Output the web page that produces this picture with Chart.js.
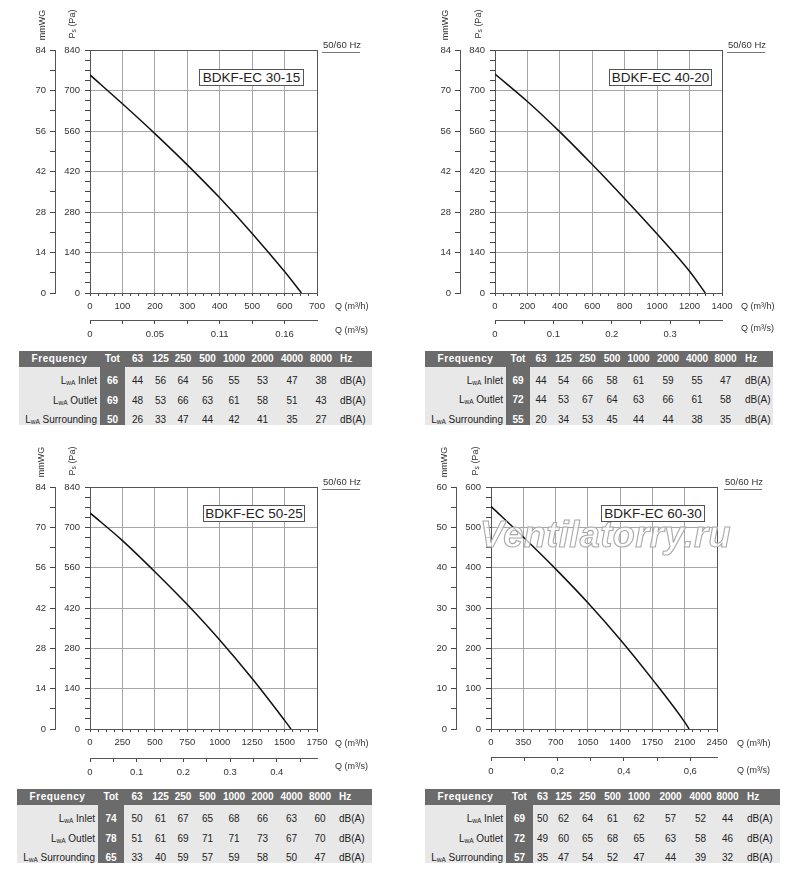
<!DOCTYPE html>
<html><head><meta charset="utf-8">
<script src="https://cdn.jsdelivr.net/npm/chart.js@4.4.0/dist/chart.umd.min.js"></script>
<style>
body{margin:0;background:#fff;width:800px;height:879px;position:relative;overflow:hidden;font-family:"Liberation Sans",Arial,sans-serif;color:#333}
canvas{position:absolute}
.t{position:absolute;white-space:nowrap;font-size:9px;line-height:10px;color:#333}
.rot{transform:translate(-50%,-50%) rotate(-90deg)}
.t sub{font-size:6.5px;vertical-align:-1px;line-height:0}
.hzl{position:absolute;height:0;border-top:1.5px solid #777}
.box{position:absolute;border:1px solid #555;background:#fff;font-size:13.5px;text-align:center;color:#222;box-sizing:border-box;white-space:nowrap}
.wm{position:absolute;font-size:36px;line-height:36px;font-weight:bold;font-style:italic;color:rgba(255,255,255,0.72);-webkit-text-stroke:1.1px #aaaaaa;white-space:nowrap;letter-spacing:0.5px}
table.snd{position:absolute;border-collapse:collapse;table-layout:fixed;font-size:10px;font-family:"Liberation Sans",Arial,sans-serif}
table.snd th,table.snd td{padding:0;text-align:center;white-space:nowrap;overflow:visible}
table.snd th{background:#6b6b6b;color:#fff;font-weight:bold;height:16px;line-height:16px}
table.snd th.fq{letter-spacing:0.6px}
table.snd td{background:#e8e8e8;height:19.4px;vertical-align:bottom;line-height:10px;color:#222}
table.snd td.tot{background:#6b6b6b;color:#fff;font-weight:bold}
table.snd td.lbl{text-align:right}
table.snd .unit{text-align:left}
table.snd sub{font-size:6.5px;vertical-align:-1px;line-height:0}
</style></head><body>
<script>
// ---------- DATA ----------
// Panel 1: BDKF-EC 30-15
const p1_q  = [0, 100, 200, 300, 400, 500, 600, 652];
const p1_pa = [754, 654, 551, 443, 329, 206, 74, 0];
const p1_qTicks  = [0, 100, 200, 300, 400, 500, 600, 700];
const p1_paTicks = [0, 140, 280, 420, 560, 700, 840];
const p1_mmTicks = [0, 14, 28, 42, 56, 70, 84];
const p1_qsTicks  = [0, 0.0278, 0.0556, 0.0833, 0.1111, 0.1389, 0.1667];
const p1_qsLabels = ['0', '', '0.05', '', '0.11', '', '0.16'];
const p1_qsMax = 0.19444;

// Panel 2: BDKF-EC 40-20
const p2_q  = [0, 200, 400, 600, 800, 1000, 1200, 1297];
const p2_pa = [757, 662, 557, 444, 326, 204, 75, 0];
const p2_qTicks  = [0, 200, 400, 600, 800, 1000, 1200, 1400];
const p2_paTicks = [0, 140, 280, 420, 560, 700, 840];
const p2_mmTicks = [0, 14, 28, 42, 56, 70, 84];
const p2_qsTicks  = [0, 0.05, 0.1, 0.15, 0.2, 0.25, 0.3, 0.35];
const p2_qsLabels = ['0', '', '0.1', '', '0.2', '', '0.3', ''];
const p2_qsMax = 0.38889;

// Panel 3: BDKF-EC 50-25
const p3_q  = [0, 250, 500, 750, 1000, 1250, 1500, 1550];
const p3_pa = [750, 654, 546, 432, 309, 175, 30, 0];
const p3_qTicks  = [0, 250, 500, 750, 1000, 1250, 1500, 1750];
const p3_paTicks = [0, 140, 280, 420, 560, 700, 840];
const p3_mmTicks = [0, 14, 28, 42, 56, 70, 84];
const p3_qsTicks  = [0, 0.05, 0.1, 0.15, 0.2, 0.25, 0.3, 0.35, 0.4, 0.45];
const p3_qsLabels = ['0', '', '0.1', '', '0.2', '', '0.3', '', '0.4', ''];
const p3_qsMax = 0.48611;

// Panel 4: BDKF-EC 60-30
const p4_q  = [0, 350, 700, 1050, 1400, 1750, 2100, 2147];
const p4_pa = [552, 476, 397, 313, 222, 123, 17, 0];
const p4_qTicks  = [0, 350, 700, 1050, 1400, 1750, 2100, 2450];
const p4_paTicks = [0, 100, 200, 300, 400, 500, 600];
const p4_mmTicks = [0, 10, 20, 30, 40, 50, 60];
const p4_qsTicks  = [0, 0.1, 0.2, 0.3, 0.4, 0.5, 0.6];
const p4_qsLabels = ['0', '', '0,2', '', '0,4', '', '0,6'];
const p4_qsMax = 0.68056;

const titles = ['BDKF-EC 30-15', 'BDKF-EC 40-20', 'BDKF-EC 50-25', 'BDKF-EC 60-30'];

// Sound tables (Tot first, then octave bands)
const bands = ['63', '125', '250', '500', '1000', '2000', '4000', '8000'];
const t1_inlet  = [66, 44, 56, 64, 56, 55, 53, 47, 38];
const t1_outlet = [69, 48, 53, 66, 63, 61, 58, 51, 43];
const t1_surr   = [50, 26, 33, 47, 44, 42, 41, 35, 27];
const t2_inlet  = [69, 44, 54, 66, 58, 61, 59, 55, 47];
const t2_outlet = [72, 44, 53, 67, 64, 63, 66, 61, 58];
const t2_surr   = [55, 20, 34, 53, 45, 44, 44, 38, 35];
const t3_inlet  = [74, 50, 61, 67, 65, 68, 66, 63, 60];
const t3_outlet = [78, 51, 61, 69, 71, 71, 73, 67, 70];
const t3_surr   = [65, 33, 40, 59, 57, 59, 58, 50, 47];
const t4_inlet  = [69, 50, 62, 64, 61, 62, 57, 52, 44];
const t4_outlet = [72, 49, 60, 65, 68, 65, 63, 58, 46];
const t4_surr   = [57, 35, 47, 54, 52, 47, 44, 39, 32];

// ---------- LAYOUT ----------
const layouts = [
  {left:0,   top:0,   w:400, h:345, area:{l:90, t:50, r:317, b:293}, mmX:55, xH:27,
   box:[199,69,105,17], hz:[323,45,52], mm:[42,25], ps:[72,24], qh:[335,306], qs:[335,330]},
  {left:400, top:0,   w:400, h:345, area:{l:95, t:50, r:322, b:293}, mmX:60, xH:27,
   box:[609,69,103,17], hz:[728,45,52], mm:[445,25], ps:[478,24], qh:[741,306], qs:[741,328]},
  {left:0,   top:437, w:400, h:345, area:{l:90, t:50, r:317, b:292}, mmX:55, xH:29,
   box:[203,505,102,17], hz:[323,482,489], mm:[41,462], ps:[72,461], qh:[335,743], qs:[335,766]},
  {left:400, top:437, w:400, h:345, area:{l:91, t:50, r:317, b:292}, mmX:56, xH:28,
   box:[601,505,104,17], hz:[725,482,489], mm:[444,462], ps:[475,461], qh:[737,743], qs:[737,770]}
];
const tableLayouts = [
  {top:351,   cols:[19, 100, 125, 150, 171, 195, 220, 248, 277, 307, 335, 372]},
  {top:350.5, cols:[425, 506, 530, 552, 575, 600, 624, 653, 683, 711, 740, 773]},
  {top:789,   cols:[17, 98, 124, 150, 171, 195, 220, 248, 277, 306, 334, 372]},
  {top:789,   cols:[425, 506, 533, 552, 575, 600, 625, 653, 688, 713, 742, 780]}
];

const panels = [
  {q:p1_q, pa:p1_pa, qTicks:p1_qTicks, paTicks:p1_paTicks, mmTicks:p1_mmTicks, qsTicks:p1_qsTicks, qsLabels:p1_qsLabels, qsMax:p1_qsMax},
  {q:p2_q, pa:p2_pa, qTicks:p2_qTicks, paTicks:p2_paTicks, mmTicks:p2_mmTicks, qsTicks:p2_qsTicks, qsLabels:p2_qsLabels, qsMax:p2_qsMax},
  {q:p3_q, pa:p3_pa, qTicks:p3_qTicks, paTicks:p3_paTicks, mmTicks:p3_mmTicks, qsTicks:p3_qsTicks, qsLabels:p3_qsLabels, qsMax:p3_qsMax},
  {q:p4_q, pa:p4_pa, qTicks:p4_qTicks, paTicks:p4_paTicks, mmTicks:p4_mmTicks, qsTicks:p4_qsTicks, qsLabels:p4_qsLabels, qsMax:p4_qsMax}
];
const tables = [
  [t1_inlet, t1_outlet, t1_surr],
  [t2_inlet, t2_outlet, t2_surr],
  [t3_inlet, t3_outlet, t3_surr],
  [t4_inlet, t4_outlet, t4_surr]
];

// ---------- HELPERS ----------
function withMinor(majors, div) {
  const out = [];
  for (let i = 0; i < majors.length - 1; i++) {
    const a = majors[i], b = majors[i + 1];
    for (let k = 0; k < div; k++) out.push(a + (b - a) * k / div);
  }
  out.push(majors[majors.length - 1]);
  return out;
}
const isMajor = (v, majors) => majors.some(m => Math.abs(m - v) < 1e-6);
const FONT = {family: '"Liberation Sans", Arial, sans-serif', size: 9.5};
const GRID = '#a6a6a6', EDGE = '#555', TICK = '#444';
function gridColor(majors) {
  const max = majors[majors.length - 1];
  return ctx => {
    const v = ctx.tick ? ctx.tick.value : undefined;
    if (v === undefined) return 'rgba(0,0,0,0)';
    if (Math.abs(v - max) < 1e-6) return EDGE;
    return isMajor(v, majors) ? GRID : 'rgba(0,0,0,0)';
  };
}
function addText(html, cls, x, y, extraStyle) {
  const d = document.createElement('div');
  d.className = 't ' + (cls || '');
  d.innerHTML = html;
  d.style.left = x + 'px';
  d.style.top = y + 'px';
  if (extraStyle) d.style.cssText += extraStyle;
  document.body.appendChild(d);
  return d;
}

function makeChart(L, D) {
  const cv = document.createElement('canvas');
  cv.width = L.w; cv.height = L.h;
  cv.style.left = L.left + 'px'; cv.style.top = L.top + 'px';
  cv.style.width = L.w + 'px'; cv.style.height = L.h + 'px';
  document.body.appendChild(cv);
  const yW = L.area.l - L.mmX, y2W = 25, x2H = 20;
  new Chart(cv, {
    type: 'line',
    data: {datasets: [{
      data: D.q.map((q, i) => ({x: q, y: D.pa[i]})),
      borderColor: '#111', borderWidth: 1.5, pointRadius: 0,
      cubicInterpolationMode: 'monotone', fill: false, xAxisID: 'x', yAxisID: 'y'
    }]},
    options: {
      responsive: false, animation: false, events: [],
      layout: {padding: {left: L.mmX - y2W, right: L.w - L.area.r, top: L.area.t,
                         bottom: L.h - L.area.b - L.xH - x2H}},
      plugins: {legend: {display: false}, tooltip: {enabled: false}},
      scales: {
        x: {
          type: 'linear', position: 'bottom', weight: 0,
          min: D.qTicks[0], max: D.qTicks[D.qTicks.length - 1],
          afterBuildTicks: s => { s.ticks = withMinor(D.qTicks, 4).map(v => ({value: v})); },
          afterFit: s => { s.height = L.xH; },
          ticks: {autoSkip: false, maxRotation: 0, minRotation: 0, padding: 5, color: '#333', font: FONT,
                  callback: v => isMajor(v, D.qTicks) ? String(Math.round(v)) : ''},
          grid: {color: gridColor(D.qTicks), lineWidth: 1, tickColor: TICK, tickLength: 3, drawTicks: true},
          border: {display: true, color: EDGE, width: 1}
        },
        x2: {
          type: 'linear', position: 'bottom', weight: 1, min: 0, max: D.qsMax,
          afterBuildTicks: s => { s.ticks = D.qsTicks.map(v => ({value: v})); },
          afterFit: s => { s.height = x2H; },
          ticks: {autoSkip: false, maxRotation: 0, minRotation: 0, padding: 5, color: '#333', font: FONT,
                  callback: (v, i) => D.qsLabels[i]},
          grid: {drawOnChartArea: false, tickColor: TICK, tickLength: 4, drawTicks: true},
          border: {display: true, color: EDGE, width: 1}
        },
        y: {
          type: 'linear', position: 'left', weight: 0,
          min: D.paTicks[0], max: D.paTicks[D.paTicks.length - 1],
          afterBuildTicks: s => { s.ticks = withMinor(D.paTicks, 4).map(v => ({value: v})); },
          afterFit: s => { s.width = yW; },
          ticks: {autoSkip: false, padding: 5, color: '#333', font: FONT,
                  callback: v => isMajor(v, D.paTicks) ? String(Math.round(v)) : ''},
          grid: {color: gridColor(D.paTicks), lineWidth: 1, tickColor: TICK, tickLength: 5, drawTicks: true},
          border: {display: true, color: EDGE, width: 1}
        },
        y2: {
          type: 'linear', position: 'left', weight: 1,
          min: D.mmTicks[0], max: D.mmTicks[D.mmTicks.length - 1],
          afterBuildTicks: s => { s.ticks = withMinor(D.mmTicks, 2).map(v => ({value: v})); },
          afterFit: s => { s.width = y2W; },
          ticks: {autoSkip: false, padding: 4, color: '#333', font: FONT,
                  callback: v => isMajor(v, D.mmTicks) ? String(Math.round(v)) : ''},
          grid: {drawOnChartArea: false, tickColor: TICK, tickLength: 5, drawTicks: true},
          border: {display: true, color: EDGE, width: 1}
        }
      }
    }
  });
}

function makeTable(TL, rows) {
  const tb = document.createElement('table');
  tb.className = 'snd';
  const c = TL.cols;
  tb.style.left = c[0] + 'px';
  tb.style.top = TL.top + 'px';
  tb.style.width = (c[c.length - 1] - c[0]) + 'px';
  let html = '<colgroup>';
  for (let i = 0; i < c.length - 1; i++) html += '<col style="width:' + (c[i + 1] - c[i]) + 'px">';
  html += '</colgroup>';
  html += '<tr><th class="fq">Frequency</th><th>Tot</th>' + bands.map(b => '<th>' + b + '</th>').join('') +
          '<th class="unit"><span style="margin-left:5px">Hz</span></th></tr>';
  const names = ['Inlet', 'Outlet', 'Surrounding'];
  rows.forEach((r, ri) => {
    html += '<tr><td class="lbl"><span style="margin-right:3px">L<sub>wA</sub> ' + names[ri] + '</span></td>' +
            '<td class="tot">' + r[0] + '</td>' +
            r.slice(1).map(v => '<td>' + v + '</td>').join('') +
            '<td class="unit"><span style="margin-left:5px">dB(A)</span></td></tr>';
  });
  tb.innerHTML = html;
  document.body.appendChild(tb);
}

// ---------- BUILD ----------
layouts.forEach((L, i) => {
  makeChart(L, panels[i]);
  addText('mmWG', 'rot', L.mm[0], L.mm[1]);
  addText('P<sub>s</sub> (Pa)', 'rot', L.ps[0], L.ps[1]);
  addText('Q (m³/h)', '', L.qh[0], L.qh[1] - 5);
  addText('Q (m³/s)', '', L.qs[0], L.qs[1] - 5);
  addText('50/60 Hz', '', L.hz[0], L.hz[1] - 5, 'font-size:9.5px');
  const ul = document.createElement('div');
  ul.className = 'hzl';
  ul.style.left = (L.hz[0] - 1) + 'px'; ul.style.top = L.hz[2] + 'px'; ul.style.width = '38px';
  document.body.appendChild(ul);
  const b = document.createElement('div');
  b.className = 'box';
  b.textContent = titles[i];
  b.style.left = L.box[0] + 'px'; b.style.top = L.box[1] + 'px';
  b.style.width = L.box[2] + 'px'; b.style.height = L.box[3] + 'px';
  b.style.lineHeight = (L.box[3] - 2) + 'px';
  document.body.appendChild(b);
  makeTable(tableLayouts[i], tables[i]);
});

// watermark
const wm = document.createElement('div');
wm.className = 'wm';
wm.textContent = 'Ventilatorry.ru';
wm.style.left = '480px'; wm.style.top = '517px';
document.body.appendChild(wm);
</script>
</body></html>
